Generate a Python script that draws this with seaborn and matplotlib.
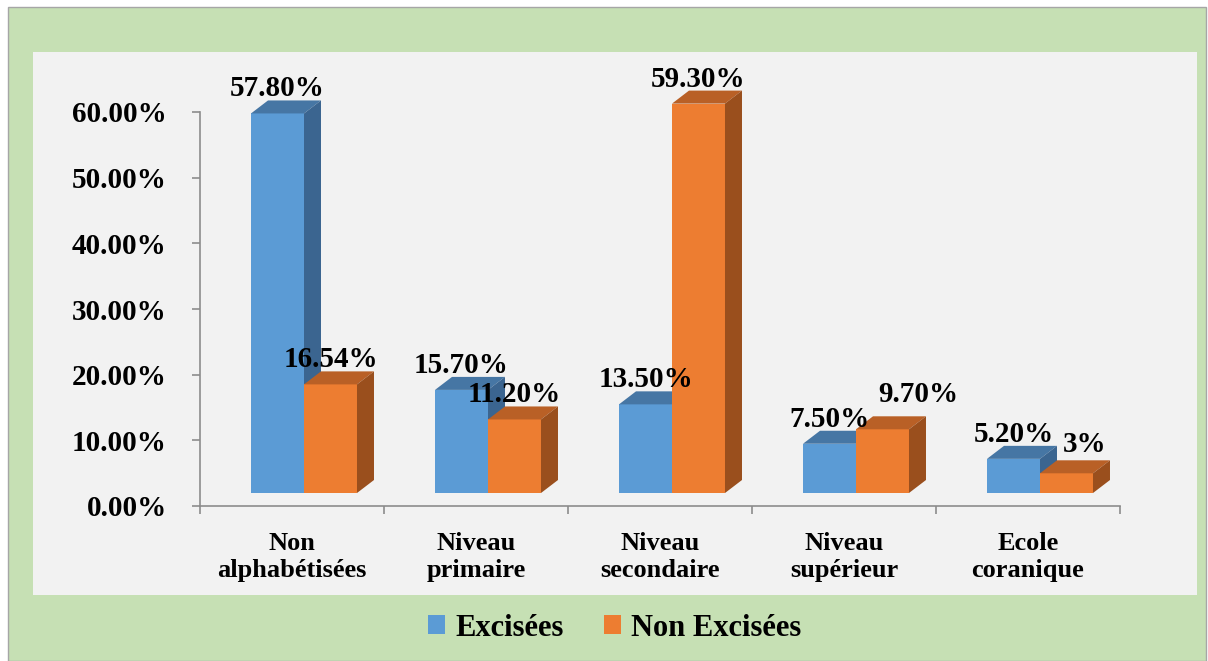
import matplotlib
matplotlib.use("Agg")
import matplotlib.pyplot as plt
import matplotlib.transforms as mtransforms
from matplotlib.patches import Polygon, Rectangle, Patch
import pandas as pd
import seaborn as sns

# data
categories = ["Non\nalphabétisées", "Niveau\nprimaire", "Niveau\nsecondaire",
              "Niveau\nsupérieur", "Ecole\ncoranique"]
series = ["Excisées", "Non Excisées"]
excisees = [57.80, 15.70, 13.50, 7.50, 5.20]
non_excisees = [16.54, 11.20, 59.30, 9.70, 3.0]
labels_exc = ["57.80%", "15.70%", "13.50%", "7.50%", "5.20%"]
labels_non = ["16.54%", "11.20%", "59.30%", "9.70%", "3%"]
yticks = [0, 10, 20, 30, 40, 50, 60]

df = pd.DataFrame({
    "niveau": categories * 2,
    "groupe": [series[0]] * len(categories) + [series[1]] * len(categories),
    "pct": excisees + non_excisees,
})
bar_labels = [labels_exc, labels_non]

# colours of the pseudo 3D boxes
front = {"Excisées": "#5B9BD5", "Non Excisées": "#ED7D31"}
top = {"Excisées": "#4676A4", "Non Excisées": "#B96026"}
side = {"Excisées": "#3B6590", "Non Excisées": "#9A4F1D"}
label_nudge = {"9.70%": (36, 10), "3%": (18, 4)}

sns.set_style("white")
plt.rcParams["font.family"] = ["Liberation Serif", "DejaVu Serif"]
plt.rcParams["font.weight"] = "bold"
plt.rcParams["text.color"] = "black"
plt.rcParams["xtick.color"] = "black"
plt.rcParams["ytick.color"] = "black"

W, H = 1208, 661
fig = plt.figure(figsize=(W / 100, H / 100), dpi=100, facecolor="white")
fig.patches.append(Rectangle((8 / W, 0), 1198 / W, 654 / H, transform=fig.transFigure,
                             facecolor="#C6E0B4", edgecolor="#A6A6A6", lw=1, zorder=-3))
fig.patches.append(Rectangle((33 / W, 1 - 595 / H), 1164 / W, 543 / H, transform=fig.transFigure,
                             facecolor="#F2F2F2", edgecolor="none", zorder=-2))

ax = fig.add_axes([200 / W, 1 - 506 / H, 920 / W, 394 / H])
ax.patch.set_visible(False)
sns.barplot(data=df, x="niveau", y="pct", hue="groupe", palette=front, width=0.576,
            gap=0, saturation=1, ax=ax, legend=False, edgecolor="none", linewidth=0)
ax.set_xlim(-0.5, len(categories) - 0.5)
ax.set_ylim(0, 60)

# depth of the boxes, in pixels -> data units
p0 = ax.transData.transform((0, 0))
p1 = ax.transData.transform((1, 1))
ddx = 17 / (p1[0] - p0[0])
ddy = 13 / (p1[1] - p0[1])
shift = ax.transData + mtransforms.ScaledTranslation(0.12, 0.13, fig.dpi_scale_trans)

for i, cont in enumerate(ax.containers):
    s = series[i]
    for bar, lab in zip(cont, bar_labels[i]):
        x0, w, h = bar.get_x(), bar.get_width(), bar.get_height()
        x1 = x0 + w
        bar.set_transform(shift)
        bar.set_clip_on(False)
        bar.set_zorder(2 + i)
        ax.add_patch(Polygon([(x0, h), (x1, h), (x1 + ddx, h + ddy), (x0 + ddx, h + ddy)],
                             closed=True, facecolor=top[s], edgecolor="none",
                             transform=shift, clip_on=False, zorder=2.5 + i))
        ax.add_patch(Polygon([(x1, 0), (x1, h), (x1 + ddx, h + ddy), (x1 + ddx, ddy)],
                             closed=True, facecolor=side[s], edgecolor="none",
                             transform=shift, clip_on=False, zorder=2.5 + i))
        nx, ny = label_nudge.get(lab, (0, 0))
        ax.annotate(lab, xy=(x0 + w / 2, h), xycoords=shift, xytext=(nx, 11 + ny),
                    textcoords="offset pixels", ha="center", va="bottom", color="black",
                    fontsize=21, fontweight="bold", zorder=10, annotation_clip=False)

for sp in ["top", "right"]:
    ax.spines[sp].set_visible(False)
for sp in ["left", "bottom"]:
    ax.spines[sp].set_color("#8C8C8C")
    ax.spines[sp].set_linewidth(1.2)

ax.set_yticks(yticks)
ax.set_yticklabels([f"{t:.2f}%" for t in yticks], fontsize=21, fontweight="bold")
ax.tick_params(axis="y", length=6, width=1.2, color="#8C8C8C", labelcolor="black",
               pad=18, left=True)
ax.set_xticks(range(len(categories)))
ax.set_xticklabels(categories, fontsize=19, fontweight="bold", linespacing=1.22)
ax.set_xticks([k - 0.5 for k in range(len(categories) + 1)], minor=True)
ax.tick_params(axis="x", which="major", length=0, pad=19, labelcolor="black")
ax.tick_params(axis="x", which="minor", length=6, width=1.2, color="#8C8C8C", bottom=True)
ax.set_xlabel("")
ax.set_ylabel("")

fig.legend(handles=[Patch(facecolor=front[s], edgecolor="none", label=s) for s in series],
           loc="center", bbox_to_anchor=(615 / W, 1 - 628 / H), ncol=2, frameon=False,
           fontsize=22, handlelength=0.55, handleheight=0.55, handletextpad=0.35,
           columnspacing=1.3, labelcolor="black")

fig.savefig("out.png", dpi=100, facecolor=fig.get_facecolor())
